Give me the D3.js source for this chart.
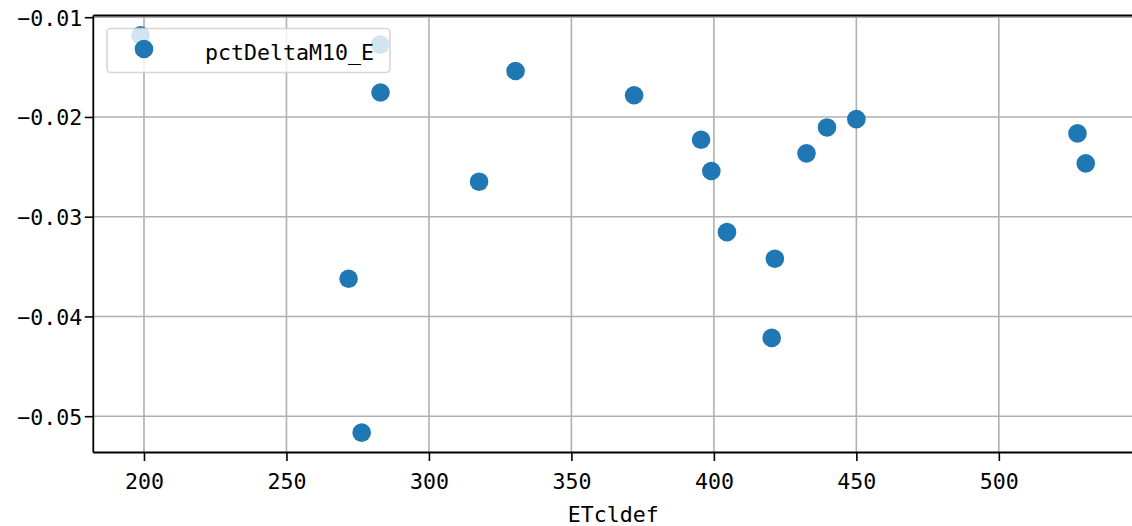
<!DOCTYPE html>
<html>
<head>
<meta charset="utf-8">
<script src="https://cdn.jsdelivr.net/npm/d3@7"></script>
<style>
  html, body { margin: 0; padding: 0; background: #fff; }
  svg { display: block; }
  text { font-family: "DejaVu Sans Mono", monospace; fill: #000; }
</style>
</head>
<body>
<svg id="chart" width="1132" height="526"></svg>
<script>
// ---- data ----
const seriesName = "pctDeltaM10_E";
const xLabel = "ETcldef";
const xValues = [198.8, 282.9, 283.0, 330.4, 372.0, 317.6, 271.8, 276.4, 395.5, 399.1, 404.6, 421.4, 420.3, 432.5, 439.7, 450.0, 527.6, 530.5];
const yValues = [-0.01182, -0.01275, -0.01755, -0.01539, -0.01782, -0.02649, -0.03622, -0.05165, -0.02229, -0.02542, -0.03155, -0.03422, -0.04215, -0.02365, -0.02105, -0.02022, -0.02165, -0.02465];
const xTicks = [200, 250, 300, 350, 400, 450, 500];
const yTicks = [-0.01, -0.02, -0.03, -0.04, -0.05];

// ---- layout ----
const pL = 93.3, pR = 1133, pT = 15.5, pB = 452.5;
const svg = d3.select("#chart");

const xMin = d3.min(xValues), xMax = d3.max(xValues);
const yMin = d3.min(yValues), yMax = d3.max(yValues);
const xPad = (xMax - xMin) * 0.05, yPad = (yMax - yMin) * 0.05;

const x = d3.scaleLinear().domain([xMin - xPad, xMax + xPad]).range([pL, pR]);
const y = d3.scaleLinear().domain([yMin - yPad, yMax + yPad]).range([pB, pT]);

// grid
const grid = svg.append("g");
grid.selectAll("line.gx").data(xTicks).enter().append("line")
  .attr("x1", d => x(d)).attr("x2", d => x(d))
  .attr("y1", pT).attr("y2", pB)
  .attr("stroke", "#b0b0b0").attr("stroke-width", 1.6);
grid.selectAll("line.gy").data(yTicks).enter().append("line")
  .attr("x1", pL).attr("x2", pR)
  .attr("y1", d => y(d)).attr("y2", d => y(d))
  .attr("stroke", "#b0b0b0").attr("stroke-width", 1.6);

// points
svg.append("g").selectAll("circle").data(xValues.map((v, i) => [v, yValues[i]]))
  .enter().append("circle")
  .attr("cx", d => x(d[0])).attr("cy", d => y(d[1]))
  .attr("r", 9.3).attr("fill", "#1f77b4");

// axes
const xAxis = d3.axisBottom(x).tickValues(xTicks).tickSize(8.5).tickPadding(5).tickFormat(d3.format("d"));
const gx = svg.append("g").attr("transform", `translate(0,${pB})`).call(xAxis);
gx.select(".domain").remove();
gx.selectAll(".tick line").attr("stroke", "#000").attr("stroke-width", 1.6);
gx.selectAll(".tick text").attr("font-size", "21.6px").attr("dy", null).attr("y", 36.5)
  .style("font-family", "'DejaVu Sans Mono', monospace").attr("fill", "#000");

const yAxis = d3.axisLeft(y).tickValues(yTicks).tickSize(8.5).tickPadding(5)
  .tickFormat(d => d3.format(".2f")(d).replace("-", "\u2212"));
const gy = svg.append("g").attr("transform", `translate(${pL},0)`).call(yAxis);
gy.select(".domain").remove();
gy.selectAll(".tick line").attr("stroke", "#000").attr("stroke-width", 1.6);
gy.selectAll(".tick text").attr("font-size", "21.6px").attr("dy", null).attr("y", 8).attr("x", -11)
  .style("font-family", "'DejaVu Sans Mono', monospace").attr("fill", "#000");

// spines
svg.append("line").attr("x1", pL).attr("x2", pL).attr("y1", pT).attr("y2", pB)
  .attr("stroke", "#000").attr("stroke-width", 1.8);
svg.append("line").attr("x1", pL).attr("x2", pR).attr("y1", pB).attr("y2", pB)
  .attr("stroke", "#000").attr("stroke-width", 1.8);
svg.append("line").attr("x1", pL).attr("x2", pR).attr("y1", pT).attr("y2", pT)
  .attr("stroke", "#000").attr("stroke-width", 1.8);
svg.append("line").attr("x1", pR).attr("x2", pR).attr("y1", pT).attr("y2", pB)
  .attr("stroke", "#000").attr("stroke-width", 1.8);

// x label
svg.append("text").attr("x", (pL + pR) / 2).attr("y", 521.5)
  .attr("text-anchor", "middle").attr("font-size", "21.6px").text(xLabel);

// legend
const lg = svg.append("g");
lg.append("rect").attr("x", 107).attr("y", 28.5).attr("width", 283).attr("height", 44)
  .attr("rx", 4).attr("ry", 4)
  .attr("fill", "#fff").attr("fill-opacity", 0.8)
  .attr("stroke", "#cccccc").attr("stroke-opacity", 0.8).attr("stroke-width", 1.6);
lg.append("circle").attr("cx", 144).attr("cy", 49).attr("r", 9.3).attr("fill", "#1f77b4");
lg.append("text").attr("x", 205).attr("y", 60).attr("font-size", "21.6px").text(seriesName);
</script>
</body>
</html>
